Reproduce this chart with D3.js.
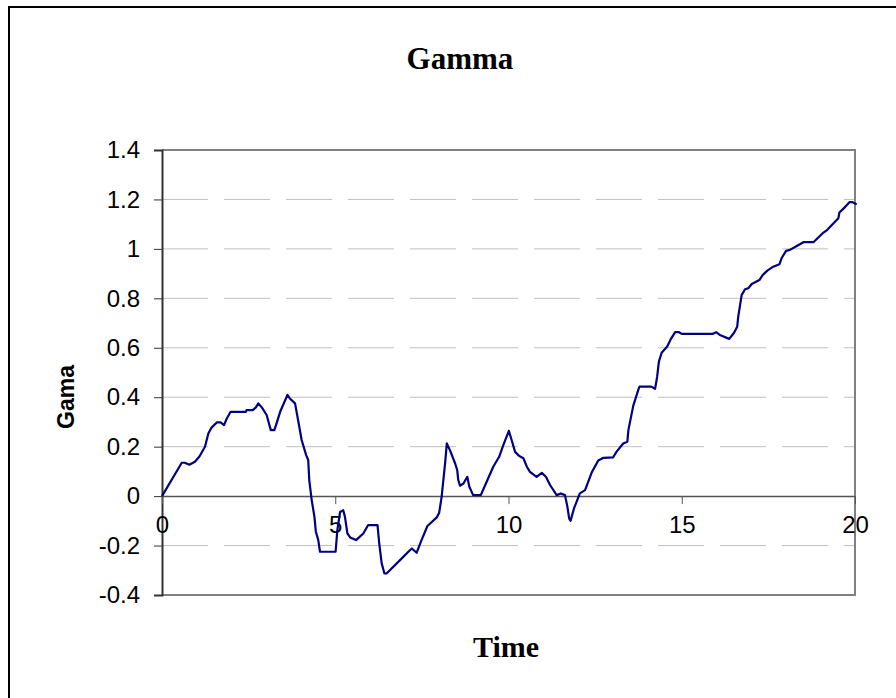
<!DOCTYPE html>
<html>
<head>
<meta charset="utf-8">
<script src="https://cdn.jsdelivr.net/npm/d3@7"></script>
<style>
  body { margin: 0; background: #fff; }
  svg { display: block; }
</style>
</head>
<body>
<div id="chart"></div>
<script>
// values
const time = [
  0, 0.57, 0.66, 0.79, 0.95, 1.08, 1.24, 1.34, 1.43, 1.58, 1.69, 1.79, 1.87, 1.98,
  2.42, 2.44, 2.62, 2.71, 2.78, 2.88, 3.02, 3.14, 3.24, 3.29, 3.41, 3.62, 3.69, 3.84,
  3.91, 4.03, 4.16, 4.22, 4.25, 4.32, 4.4, 4.44, 4.51, 4.56, 5.01, 5.06, 5.14, 5.23,
  5.28, 5.35, 5.43, 5.6, 5.81, 5.95, 6.22, 6.27, 6.34, 6.42, 6.48, 6.87, 7.11, 7.21,
  7.35, 7.49, 7.66, 7.93, 8.0, 8.07, 8.17, 8.22, 8.31, 8.46, 8.52, 8.55, 8.6, 8.7,
  8.81, 8.87, 8.98, 9.2, 9.37, 9.56, 9.73, 9.85, 10.01, 10.09, 10.19, 10.31, 10.43,
  10.53, 10.62, 10.81, 10.96, 11.08, 11.2, 11.39, 11.51, 11.63, 11.7, 11.75, 11.79,
  11.89, 12.06, 12.21, 12.4, 12.59, 12.74, 13.02, 13.12, 13.31, 13.43, 13.46, 13.6,
  13.75, 13.78, 14.12, 14.23, 14.29, 14.34, 14.42, 14.58, 14.68, 14.81, 14.92, 15.0,
  15.89, 15.99, 16.1, 16.37, 16.51, 16.6, 16.63, 16.73, 16.83, 16.92, 17.02, 17.24,
  17.34, 17.47, 17.64, 17.82, 17.88, 18.01, 18.12, 18.32, 18.51, 18.8, 18.94, 19.09,
  19.2, 19.36, 19.52, 19.55, 19.71, 19.84, 19.93, 20.05
];
const gamma = [
  0, 0.135, 0.135, 0.127, 0.139, 0.16, 0.2, 0.254, 0.277, 0.298, 0.298, 0.287, 0.314, 0.341,
  0.341, 0.348, 0.348, 0.359, 0.375, 0.359, 0.328, 0.267, 0.267, 0.287, 0.341, 0.409, 0.395, 0.375,
  0.321, 0.227, 0.166, 0.146, 0.065, -0.016, -0.084, -0.144, -0.178, -0.225, -0.225, -0.138, -0.064, -0.057,
  -0.084, -0.151, -0.167, -0.178, -0.151, -0.117, -0.117, -0.192, -0.272, -0.313, -0.313, -0.259, -0.225, -0.212,
  -0.229, -0.178, -0.121, -0.086, -0.067, -0.003, 0.132, 0.213, 0.186, 0.132, 0.105, 0.065, 0.042, 0.051,
  0.078, 0.038, 0.004, 0.004, 0.058, 0.119, 0.159, 0.206, 0.264, 0.227, 0.179, 0.162, 0.153,
  0.119, 0.098, 0.078, 0.094, 0.078, 0.045, 0.004, 0.011, 0.004, -0.043, -0.09, -0.1,
  -0.05, 0.011, 0.024, 0.095, 0.144, 0.155, 0.157, 0.18, 0.213, 0.22, 0.267, 0.365,
  0.432, 0.443, 0.443, 0.434, 0.483, 0.544, 0.58, 0.605, 0.634, 0.663, 0.663, 0.656,
  0.656, 0.663, 0.652, 0.636, 0.661, 0.685, 0.726, 0.814, 0.837, 0.841, 0.858, 0.874,
  0.895, 0.912, 0.928, 0.938, 0.962, 0.992, 0.996, 1.012, 1.027, 1.027, 1.046, 1.066,
  1.077, 1.101, 1.124, 1.147, 1.169, 1.189, 1.189, 1.18
];
const xTicks = [0, 5, 10, 15, 20];
const yTicks = [-0.4, -0.2, 0, 0.2, 0.4, 0.6, 0.8, 1, 1.2, 1.4];

const width = 896;
const height = 698;
const plot = { left: 162, right: 855, top: 150, bottom: 595 };

const svg = d3.select("#chart").append("svg")
  .attr("width", width)
  .attr("height", height);

// outer chart border (only top/left fall inside the picture)
svg.append("rect")
  .attr("x", 9).attr("y", 7)
  .attr("width", 900).attr("height", 700)
  .attr("fill", "none")
  .attr("stroke", "#000")
  .attr("stroke-width", 2);

const x = d3.scaleLinear().domain([0, 20]).range([plot.left, plot.right]);
const y = d3.scaleLinear().domain([-0.4, 1.4]).range([plot.bottom, plot.top]);

// plain hyphen for negatives, like the original
const fmt = (d) => String(+d.toFixed(1));

// dashed gridlines
svg.append("g")
  .selectAll("line")
  .data(yTicks.filter((d) => d !== 0 && d !== -0.4 && d !== 1.4))
  .join("line")
  .attr("x1", plot.left).attr("x2", plot.right)
  .attr("y1", (d) => y(d)).attr("y2", (d) => y(d))
  .attr("stroke", "#c0c0c0")
  .attr("stroke-width", 1)
  .attr("stroke-dasharray", "46,16");

// plot area frame: top, right, bottom
svg.append("path")
  .attr("d", `M${plot.left},${plot.top}H${plot.right}V${plot.bottom}H${plot.left}`)
  .attr("fill", "none")
  .attr("stroke", "#808080")
  .attr("stroke-width", 2);

// y axis
const yAxis = svg.append("g")
  .attr("transform", `translate(${plot.left},0)`)
  .call(d3.axisLeft(y).tickValues(yTicks).tickSize(8).tickPadding(14).tickFormat(fmt));
yAxis.select(".domain").attr("stroke", "#333").attr("stroke-width", 2);
yAxis.selectAll(".tick line").attr("stroke", "#333");
yAxis.selectAll("text")
  .attr("font-family", "Arial, 'Liberation Sans', sans-serif")
  .attr("font-size", 24)
  .attr("fill", "#000");

// x axis along zero
const xAxis = svg.append("g")
  .attr("transform", `translate(0,${y(0)})`)
  .call(d3.axisBottom(x).tickValues(xTicks).tickSize(8).tickSizeOuter(0).tickPadding(12));
xAxis.select(".domain").attr("stroke", "#555").attr("stroke-width", 1.5);
xAxis.selectAll(".tick line").attr("stroke", "#555");
xAxis.selectAll("text")
  .attr("font-family", "Arial, 'Liberation Sans', sans-serif")
  .attr("font-size", 24)
  .attr("fill", "#000");

// gamma line
const points = time.map((t, i) => [t, gamma[i]]);
svg.append("path")
  .datum(points)
  .attr("fill", "none")
  .attr("stroke", "#000080")
  .attr("stroke-width", 2.2)
  .attr("stroke-linejoin", "round")
  .attr("d", d3.line().x((d) => x(d[0])).y((d) => y(d[1])));

// titles
svg.append("text")
  .attr("x", 460).attr("y", 69)
  .attr("text-anchor", "middle")
  .attr("font-family", "'Times New Roman', 'Liberation Serif', serif")
  .attr("font-weight", "bold")
  .attr("font-size", 31)
  .text("Gamma");

svg.append("text")
  .attr("x", 506).attr("y", 657)
  .attr("text-anchor", "middle")
  .attr("font-family", "'Times New Roman', 'Liberation Serif', serif")
  .attr("font-weight", "bold")
  .attr("font-size", 30)
  .text("Time");

svg.append("text")
  .attr("transform", "translate(74,397) rotate(-90)")
  .attr("text-anchor", "middle")
  .attr("font-family", "Arial, 'Liberation Sans', sans-serif")
  .attr("font-weight", "bold")
  .attr("font-size", 23)
  .text("Gama");
</script>
</body>
</html>
